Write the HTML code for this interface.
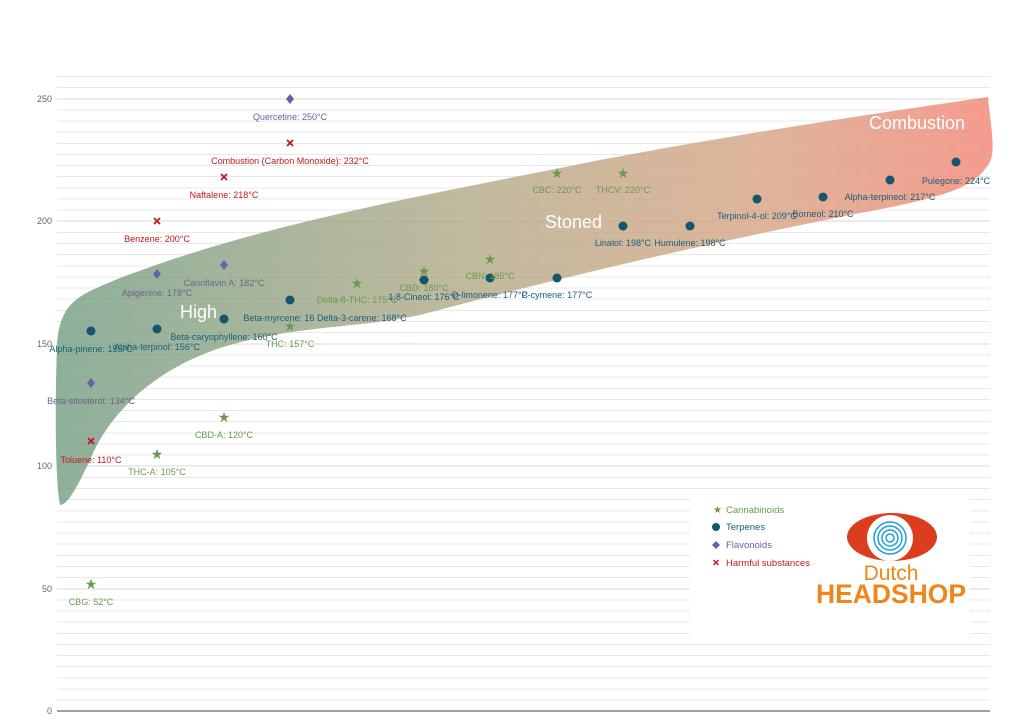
<!DOCTYPE html>
<html><head><meta charset="utf-8"><style>body{margin:0;background:#fff}svg{display:block;font-family:"Liberation Sans",sans-serif}</style></head>
<body>
<svg width="1024" height="722" viewBox="0 0 1024 722" xmlns="http://www.w3.org/2000/svg">
<defs>
<linearGradient id="g" x1="0" y1="0" x2="1" y2="0">
<stop offset="0" stop-color="#6e9a7e"/>
<stop offset="0.45" stop-color="#b1a783"/>
<stop offset="0.75" stop-color="#d6a080"/>
<stop offset="1" stop-color="#f2806e"/>
</linearGradient>
</defs>
<g stroke="#e8e8e8" stroke-width="1">
<line x1="57" x2="990" y1="76.5" y2="76.5"/><line x1="57" x2="990" y1="87.5" y2="87.5"/><line x1="57" x2="990" y1="99" y2="99" stroke="#d8d8d8"/>
<line x1="57" x2="990" y1="110" y2="110"/><line x1="57" x2="990" y1="121" y2="121"/><line x1="57" x2="990" y1="132" y2="132"/><line x1="57" x2="990" y1="143.5" y2="143.5"/><line x1="57" x2="990" y1="154.5" y2="154.5"/><line x1="57" x2="990" y1="165.5" y2="165.5"/><line x1="57" x2="990" y1="176.5" y2="176.5"/><line x1="57" x2="990" y1="188" y2="188"/><line x1="57" x2="990" y1="199" y2="199"/><line x1="57" x2="990" y1="210" y2="210"/><line x1="57" x2="990" y1="221" y2="221" stroke="#d8d8d8"/>
<line x1="57" x2="990" y1="232.5" y2="232.5"/><line x1="57" x2="990" y1="243.5" y2="243.5"/><line x1="57" x2="990" y1="254.5" y2="254.5"/><line x1="57" x2="990" y1="266" y2="266"/><line x1="57" x2="990" y1="277" y2="277"/><line x1="57" x2="990" y1="288" y2="288"/><line x1="57" x2="990" y1="299" y2="299"/><line x1="57" x2="990" y1="310.5" y2="310.5"/><line x1="57" x2="990" y1="321.5" y2="321.5"/><line x1="57" x2="990" y1="332.5" y2="332.5"/><line x1="57" x2="990" y1="344" y2="344" stroke="#d8d8d8"/>
<line x1="57" x2="990" y1="355" y2="355"/><line x1="57" x2="990" y1="366" y2="366"/><line x1="57" x2="990" y1="377" y2="377"/><line x1="57" x2="990" y1="388.5" y2="388.5"/><line x1="57" x2="990" y1="399.5" y2="399.5"/><line x1="57" x2="990" y1="410.5" y2="410.5"/><line x1="57" x2="990" y1="421.5" y2="421.5"/><line x1="57" x2="990" y1="433" y2="433"/><line x1="57" x2="990" y1="444" y2="444"/><line x1="57" x2="990" y1="455" y2="455"/><line x1="57" x2="990" y1="466" y2="466" stroke="#d8d8d8"/>
<line x1="57" x2="990" y1="477.5" y2="477.5"/><line x1="57" x2="990" y1="488.5" y2="488.5"/><line x1="57" x2="990" y1="499.5" y2="499.5"/><line x1="57" x2="990" y1="511" y2="511"/><line x1="57" x2="990" y1="522" y2="522"/><line x1="57" x2="990" y1="533" y2="533"/><line x1="57" x2="990" y1="544" y2="544"/><line x1="57" x2="990" y1="555.5" y2="555.5"/><line x1="57" x2="990" y1="566.5" y2="566.5"/><line x1="57" x2="990" y1="577.5" y2="577.5"/><line x1="57" x2="990" y1="589" y2="589" stroke="#d8d8d8"/>
<line x1="57" x2="990" y1="600" y2="600"/><line x1="57" x2="990" y1="611" y2="611"/><line x1="57" x2="990" y1="622" y2="622"/><line x1="57" x2="990" y1="633.5" y2="633.5"/><line x1="57" x2="990" y1="644.5" y2="644.5"/><line x1="57" x2="990" y1="655.5" y2="655.5"/><line x1="57" x2="990" y1="666.5" y2="666.5"/><line x1="57" x2="990" y1="678" y2="678"/><line x1="57" x2="990" y1="689" y2="689"/><line x1="57" x2="990" y1="700" y2="700"/>
</g>
<line x1="57" x2="990" y1="711" y2="711" stroke="#666" stroke-width="1.2"/>
<rect x="690" y="494" width="280" height="142" fill="#fff"/>
<g font-size="9" fill="#666" text-anchor="end">
<text x="52" y="714">0</text><text x="52" y="592">50</text><text x="52" y="469">100</text><text x="52" y="347">150</text><text x="52" y="224">200</text><text x="52" y="102">250</text>
</g>
<path d="M57,345 C60,300 80,295 120,278 C260,225 400,200 600,160 C760,130 900,110 988,97 C990,120 996,150 990,162 C975,185 960,195 850,215 C700,245 550,280 420,315 C360,328 300,325 230,345 C160,365 110,410 90,460 C78,485 68,505 60,505 C55,480 55,400 57,345 Z" fill="url(#g)" opacity="0.78"/>
<g fill="#fff" font-size="18"><text x="180" y="318">High</text><text x="545" y="228">Stoned</text><text x="869" y="129">Combustion</text></g>
<g fill="#6a9a4f" font-size="14" text-anchor="middle">
<text x="91" y="589">★</text><text x="157" y="459">★</text><text x="224" y="422">★</text><text x="290" y="331">★</text><text x="357" y="288">★</text><text x="424" y="276">★</text><text x="490" y="264">★</text><text x="557" y="178">★</text><text x="623" y="178">★</text>
</g>
<g fill="#14566e">
<circle cx="91" cy="331" r="4.5"/><circle cx="157" cy="329" r="4.5"/><circle cx="224" cy="319" r="4.5"/><circle cx="290" cy="300" r="4.5"/><circle cx="424" cy="280" r="4.5"/><circle cx="490" cy="278" r="4.5"/><circle cx="557" cy="278" r="4.5"/><circle cx="623" cy="226" r="4.5"/><circle cx="690" cy="226" r="4.5"/><circle cx="757" cy="199" r="4.5"/><circle cx="823" cy="197" r="4.5"/><circle cx="890" cy="180" r="4.5"/><circle cx="956" cy="162" r="4.5"/>
</g>
<g fill="#6b5ea8">
<path d="M91,378l4,5l-4,5l-4,-5z"/><path d="M157,269l4,5l-4,5l-4,-5z"/><path d="M224,260l4,5l-4,5l-4,-5z"/><path d="M290,94l4,5l-4,5l-4,-5z"/>
</g>
<g stroke="#c0171c" stroke-width="1.8">
<path d="M88,438l6,6M94,438l-6,6"/><path d="M154,218l6,6M160,218l-6,6"/><path d="M221,174l6,6M227,174l-6,6"/><path d="M287,140l6,6M293,140l-6,6"/>
</g>
<g font-size="9" text-anchor="middle">
<g fill="#6a9a4f">
<text x="91" y="605">CBG: 52°C</text><text x="157" y="475">THC-A: 105°C</text><text x="224" y="438">CBD-A: 120°C</text><text x="290" y="347">THC: 157°C</text><text x="357" y="303">Delta-8-THC: 175°C</text><text x="424" y="291">CBD: 180°C</text><text x="490" y="279">CBN: 185°C</text><text x="557" y="193">CBC: 220°C</text><text x="623" y="193">THCV: 220°C</text>
</g>
<g fill="#185f78">
<text x="91" y="352">Alpha-pinene: 155°C</text><text x="157" y="350">Alpha-terpinol: 156°C</text><text x="224" y="340">Beta-caryophyllene: 160°C</text><text x="325" y="321">Beta-myrcene: 16 Delta-3-carene: 168°C</text><text x="424" y="300">1,8-Cineol: 176°C</text><text x="490" y="298">D-limonene: 177°C</text><text x="557" y="298">P-cymene: 177°C</text><text x="623" y="246">Linalol: 198°C</text><text x="690" y="246">Humulene: 198°C</text><text x="757" y="219">Terpinol-4-ol: 209°C</text><text x="823" y="217">Borneol: 210°C</text><text x="890" y="200">Alpha-terpineol: 217°C</text><text x="956" y="184">Pulegone: 224°C</text>
</g>
<g fill="#6b6484">
<text x="91" y="404">Beta-sitosterol: 134°C</text><text x="157" y="296">Apigenine: 178°C</text><text x="224" y="286">Cannflavin A: 182°C</text>
</g>
<text x="290" y="120" fill="#6b5ea8">Quercetine: 250°C</text>
<g fill="#c0171c">
<text x="91" y="463">Toluene: 110°C</text><text x="157" y="242">Benzene: 200°C</text><text x="224" y="198">Naftalene: 218°C</text><text x="290" y="164">Combustion (Carbon Monoxide): 232°C</text>
</g>
</g>
<g font-size="9.5">
<text x="713" y="513" fill="#6a9a4f" font-size="10">★</text><text x="726" y="513" fill="#6a9a4f">Cannabinoids</text>
<circle cx="716" cy="527" r="4" fill="#14566e"/><text x="726" y="530" fill="#185f78">Terpenes</text>
<path d="M716,541l4,4l-4,4l-4,-4z" fill="#6b5ea8"/><text x="726" y="548" fill="#6b5ea8">Flavonoids</text>
<path d="M713.5,560l5,5M718.5,560l-5,5" stroke="#c0171c" stroke-width="1.4"/><text x="726" y="566" fill="#c0171c">Harmful substances</text>
</g>
<ellipse cx="892" cy="537" rx="45" ry="24" fill="#dc3d1e"/>
<circle cx="890" cy="538" r="23" fill="#fff"/>
<g fill="none" stroke="#1d9fdc" stroke-width="1.5"><circle cx="890" cy="538" r="16"/><circle cx="890" cy="538" r="12"/><circle cx="890" cy="538" r="8"/><circle cx="890" cy="538" r="4"/></g>
<text x="891" y="580" font-size="21" fill="#f0861a" text-anchor="middle">Dutch</text>
<text x="891" y="603" font-size="27" font-weight="bold" fill="#f0861a" text-anchor="middle" textLength="150" lengthAdjust="spacingAndGlyphs">HEADSHOP</text>
</svg>
</body></html>
